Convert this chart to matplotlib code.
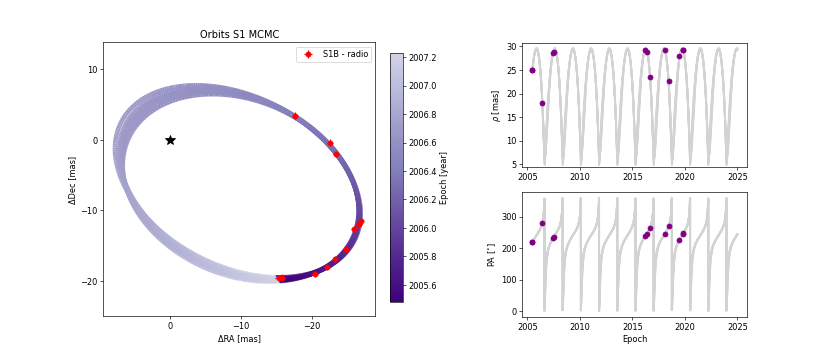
import numpy as np
import matplotlib
matplotlib.use("Agg")
import matplotlib.pyplot as plt
from matplotlib.collections import LineCollection
from matplotlib.colors import LinearSegmentedColormap, Normalize

# ── Astrometry (S1B - radio) ─────────────────────────────────────────────────
obs_epoch = [2005.48, 2005.48, 2006.43, 2007.47, 2007.50, 2016.21, 2016.37,
             2016.69, 2018.11, 2018.46, 2019.48, 2019.83, 2019.85]
obs_rho = [25.1, 24.9, 18.0, 28.6, 28.8, 29.3, 28.9, 23.5, 29.2, 22.6, 27.9, 29.2, 29.3]
obs_pa = [219, 218, 281, 231, 234, 238, 244, 265, 246, 269, 227, 246, 247]
obs_err = 0.45

# ── Orbit samples (Thiele-Innes form) ────────────────────────────────────────
sample_period = [1.735, 1.733, 1.733, 1.733, 1.733, 1.735, 1.735]
sample_ecc = [0.640, 0.660, 0.673, 0.690, 0.710, 0.610, 0.660]
sample_tp = [1.2131, 1.2001, 1.1914, 1.1828, 1.1698, 1.2145, 1.1928]
sample_u_ra = [15.258, 14.896, 14.662, 14.389, 14.045, 15.677, 14.859]
sample_u_dec = [9.560, 9.576, 9.589, 9.572, 9.585, 9.629, 9.537]
sample_v_ra = [7.497, 7.955, 8.254, 8.516, 8.936, 7.421, 8.089]
sample_v_dec = [-9.586, -9.441, -9.346, -9.291, -9.166, -9.596, -9.499]

start_epoch = 2005.48
end_epoch = 2025.0
cbar_range = (2005.48, 2007.23)


def solve_kepler(M, e):
    E = M.copy()
    for _ in range(40):
        E = E - (E - e * np.sin(E) - M) / (1 - e * np.cos(E))
    return E


def orbit_position(i, epochs):
    M = 2 * np.pi * (epochs - start_epoch - sample_tp[i]) / sample_period[i]
    E = solve_kepler(M, sample_ecc[i])
    X = np.cos(E) - sample_ecc[i]
    Y = np.sin(E)
    ra = sample_u_ra[i] * X + sample_v_ra[i] * Y
    dec = sample_u_dec[i] * X + sample_v_dec[i] * Y
    return ra, dec


purples = plt.get_cmap("Purples_r")
cmap = LinearSegmentedColormap.from_list("purples_trunc", purples(np.linspace(0, 0.72, 256)))
norm = Normalize(vmin=cbar_range[0], vmax=cbar_range[1])

fig = plt.figure(figsize=(14, 6.01), dpi=830 / 14)

# ── Sky plane ────────────────────────────────────────────────────────────────
ax = fig.add_axes([0.1245, 0.1124, 0.3277, 0.7677])
for i in range(len(sample_ecc)):
    ep = np.linspace(start_epoch, start_epoch + sample_period[i], 600)
    ra, dec = orbit_position(i, ep)
    pts = np.column_stack([ra, dec]).reshape(-1, 1, 2)
    segs = np.concatenate([pts[:-1], pts[1:]], axis=1)[::-1]
    lc = LineCollection(segs, cmap=cmap, norm=norm, linewidth=5.5)
    lc.set_array(ep[:-1][::-1])
    ax.add_collection(lc)

obs_ra = np.array(obs_rho) * np.sin(np.radians(obs_pa))
obs_dec = np.array(obs_rho) * np.cos(np.radians(obs_pa))
ax.errorbar(obs_ra, obs_dec, xerr=obs_err, yerr=obs_err, fmt="o", color="red",
            label="S1B - radio", zorder=5)
ax.plot(0, 0, marker="*", color="black", markersize=12, zorder=6)
ax.set_xlim(9.42, -28.98)
ax.set_ylim(-24.94, 13.79)
ax.set_xticks([0, -10, -20])
ax.set_yticks([10, 0, -10, -20])
ax.set_xlabel("ΔRA [mas]")
ax.set_ylabel("ΔDec [mas]")
ax.set_title("Orbits S1 MCMC")
ax.legend(loc="upper right")

cax = fig.add_axes([0.47, 0.1517, 0.0153, 0.699])
sm = plt.cm.ScalarMappable(norm=norm, cmap=cmap)
cbar = fig.colorbar(sm, cax=cax)
cbar.set_label("Epoch [year]")
cbar.set_ticks(np.arange(2005.6, 2007.21, 0.2))
cbar.ax.set_yticklabels([f"{v:.1f}" for v in np.arange(2005.6, 2007.21, 0.2)])

# ── Separation and position angle vs time ────────────────────────────────────
ax_rho = fig.add_axes([0.6293, 0.5317, 0.2704, 0.3466])
ax_pa = fig.add_axes([0.6293, 0.1104, 0.2704, 0.349])
tt = np.linspace(start_epoch, end_epoch, 5000)
for i in range(len(sample_ecc)):
    ra, dec = orbit_position(i, tt)
    ax_rho.plot(tt, np.hypot(ra, dec), color="lightgrey", linewidth=2.2)
    ax_pa.plot(tt, np.degrees(np.arctan2(ra, dec)) % 360, color="lightgrey", linewidth=2.2)

ax_rho.plot(obs_epoch, obs_rho, "o", color="purple", zorder=5)
ax_pa.plot(obs_epoch, obs_pa, "o", color="purple", zorder=5)
ax_rho.set_ylabel(r"$\rho$ [mas]")
ax_pa.set_ylabel(r"PA [$^{\circ}$]")
ax_pa.set_xlabel("Epoch")
ax_rho.set_ylim(4.49, 30.72)
ax_pa.set_ylim(-18.1, 377.5)
for a in (ax_rho, ax_pa):
    a.set_xticks([2005, 2010, 2015, 2020, 2025])
    a.set_xlim(2004.52, 2025.9)

fig.savefig("out.png")
